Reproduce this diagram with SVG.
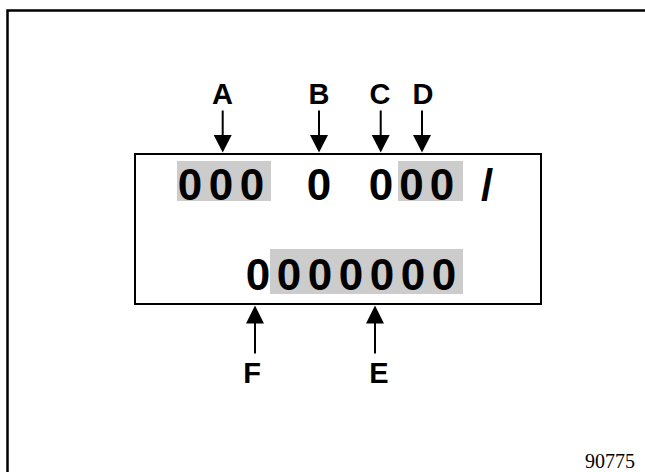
<svg xmlns="http://www.w3.org/2000/svg" width="645" height="472" viewBox="0 0 645 472">
<style>
.frame{fill:none;stroke:#000;stroke-width:2.5}
.box{fill:none;stroke:#000;stroke-width:2}
.hl{fill:#cccccc}
.dig{font-family:"Liberation Sans",Arial,sans-serif;font-weight:bold;font-size:44px;fill:#000;text-anchor:middle}
.lbl{font-family:"Liberation Sans",Arial,sans-serif;font-weight:bold;font-size:29px;fill:#000;text-anchor:middle}
.num{font-family:"Liberation Serif","Times New Roman",serif;font-size:20px;fill:#000}
.arr{stroke:#000;stroke-width:2;fill:none}
.head{fill:#000}
</style>
<rect x="0" y="0" width="645" height="472" fill="#fff"/>
<path class="frame" d="M7.5,480 V10.5 H650"/>
<g id="display">
<rect class="box" x="135" y="154" width="406" height="150"/>
<rect class="hl" x="177" y="161" width="94" height="40"/>
<rect class="hl" x="398" y="161" width="65" height="40"/>
<rect class="hl" x="270" y="249" width="193" height="45"/>
<text class="dig" x="190 221 252" y="200">000</text>
<text class="dig" x="319" y="200">0</text>
<text class="dig" x="381 411.5 442" y="200">000</text>
<text class="dig" x="487" y="200">/</text>
<text class="dig" x="258 289 320 351 382 413 444" y="290">0000000</text>
</g>
<g id="label-A"><text class="lbl" x="222.5" y="103.5">A</text></g>
<g id="label-B"><text class="lbl" x="319" y="103.5">B</text></g>
<g id="label-C"><text class="lbl" x="380" y="103.5">C</text></g>
<g id="label-D"><text class="lbl" x="423" y="103.5">D</text></g>
<g id="label-F"><text class="lbl" x="252" y="383">F</text></g>
<g id="label-E"><text class="lbl" x="379" y="383">E</text></g>
<g id="code"><text class="num" x="585" y="468">90775</text></g>
<g id="connectors">
<line class="arr" x1="222.7" y1="110.5" x2="222.7" y2="137"/>
<polygon class="head" points="213.7,135 231.7,135 222.7,152.5"/>
<line class="arr" x1="319" y1="110.5" x2="319" y2="137"/>
<polygon class="head" points="310,135 328,135 319,152.5"/>
<line class="arr" x1="380.7" y1="110.5" x2="380.7" y2="137"/>
<polygon class="head" points="371.7,135 389.7,135 380.7,152.5"/>
<line class="arr" x1="422" y1="110.5" x2="422" y2="137"/>
<polygon class="head" points="413,135 431,135 422,152.5"/>
<line class="arr" x1="255" y1="321" x2="255" y2="353.5"/>
<polygon class="head" points="246,323.5 264,323.5 255,305.5"/>
<line class="arr" x1="375" y1="321" x2="375" y2="353.5"/>
<polygon class="head" points="366,323.5 384,323.5 375,305.5"/>
</g>
</svg>
